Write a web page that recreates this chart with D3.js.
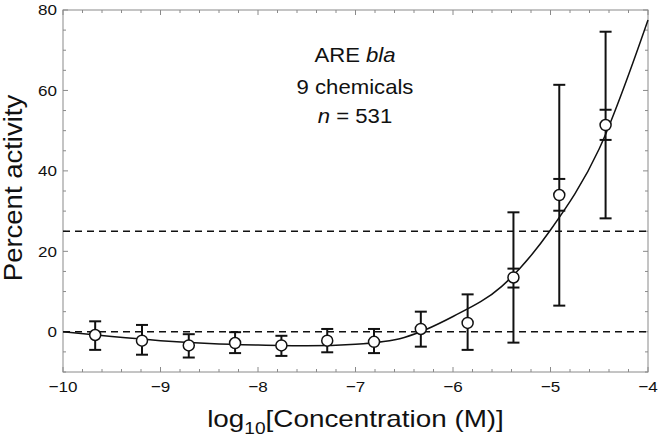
<!DOCTYPE html>
<html>
<head>
<meta charset="utf-8">
<script src="https://cdn.jsdelivr.net/npm/d3@7"></script>
<style>
  body { margin: 0; background: #fff; }
  svg { display: block; font-family: Arial, "Liberation Sans", sans-serif; }
</style>
</head>
<body>
<svg id="chart" width="660" height="440"></svg>
<script>
// ---- data ----
const logConc   = [-9.67, -9.19, -8.71, -8.235, -7.76, -7.29, -6.81, -6.33, -5.85, -5.38, -4.91, -4.435];
const meanAct   = [-0.8, -2.2, -3.4, -2.8, -3.4, -2.2, -2.5, 0.7, 2.2, 13.5, 34.0, 51.4];
const sdLow     = [-4.5, -5.7, -6.4, -5.3, -6.0, -5.1, -5.3, -3.7, -4.5, -2.7, 6.5, 28.2];
const sdHigh    = [2.6, 1.7, -0.6, -0.1, -1.0, 0.7, 0.7, 5.0, 9.3, 29.7, 61.4, 74.6];
// inner (standard error) bars, only visible on the last points
const semIdx    = [9, 10, 11];
const semLow    = [11.0, 30.1, 47.7];
const semHigh   = [15.7, 38.0, 55.2];

// fitted curve
const fitX = [-10, -9.5, -9, -8.5, -8, -7.5, -7, -6.5, -6, -5.5, -5, -4.5, -4];
const fitY = [0, -1.2, -2.2, -2.9, -3.3, -3.5, -3.1, -1.4, 3.8, 11.3, 25.3, 45.5, 77.5];

const refLines = [0, 25];
const xTicks = [-10, -9, -8, -7, -6, -5, -4];
const yTicks = [0, 20, 40, 60, 80];

// ---- layout ----
const svg = d3.select('#chart');
const margin = { left: 63, right: 12, top: 10, bottom: 68 };
const W = 660, H = 440;
const x = d3.scaleLinear().domain([-10, -4]).range([margin.left, W - margin.right]);
const y = d3.scaleLinear().domain([-10, 80]).range([H - margin.bottom, margin.top]);

const frame = '#8a8a8a';
const ink = '#111';
const stretch = 1.1; // the original font runs a bit wider than Arial

// place a text element at (px, py), widened horizontally
function placeText(sel, px, py, sx = stretch, rot = 0) {
  return sel.attr('transform', `translate(${px},${py}) rotate(${rot}) scale(${sx},1)`);
}

// frame
svg.append('rect')
  .attr('x', x(-10)).attr('y', y(80))
  .attr('width', x(-4) - x(-10)).attr('height', y(-10) - y(80))
  .attr('fill', 'none').attr('stroke', frame).attr('stroke-width', 1);

// ticks (inward, on all four sides)
const xMinor = d3.range(-10, -3.999, 0.2);
const yMinor = d3.range(-10, 80.001, 5);
const tickG = svg.append('g').attr('stroke', frame).attr('stroke-width', 1);
xMinor.forEach(v => {
  const major = Math.abs(v - Math.round(v)) < 1e-6;
  const len = major ? 5 : 3;
  tickG.append('line').attr('x1', x(v)).attr('x2', x(v)).attr('y1', y(-10)).attr('y2', y(-10) - len);
  tickG.append('line').attr('x1', x(v)).attr('x2', x(v)).attr('y1', y(80)).attr('y2', y(80) + len);
});
yMinor.forEach(v => {
  const major = v % 20 === 0;
  const len = major ? 5 : 3;
  tickG.append('line').attr('y1', y(v)).attr('y2', y(v)).attr('x1', x(-10)).attr('x2', x(-10) + len);
  tickG.append('line').attr('y1', y(v)).attr('y2', y(v)).attr('x1', x(-4)).attr('x2', x(-4) - len);
});

// tick labels
svg.append('g').selectAll('text').data(xTicks).join('text')
  .each(function(d) { placeText(d3.select(this), x(d), y(-10) + 20); })
  .attr('text-anchor', 'middle').attr('font-size', 15.5).attr('fill', ink)
  .text(d => String(d).replace('-', '\u2212'));
svg.append('g').selectAll('text').data(yTicks).join('text')
  .each(function(d) { placeText(d3.select(this), x(-10) - 6, y(d)); })
  .attr('dy', '0.35em')
  .attr('text-anchor', 'end').attr('font-size', 15.5).attr('fill', ink)
  .text(d => d);

// dashed reference lines
svg.append('g').selectAll('line').data(refLines).join('line')
  .attr('x1', x(-10)).attr('x2', x(-4))
  .attr('y1', d => y(d)).attr('y2', d => y(d))
  .attr('stroke', ink).attr('stroke-width', 1.5).attr('stroke-dasharray', '7,5');

// fitted curve
const line = d3.line().x((d, i) => x(fitX[i])).y(d => y(d)).curve(d3.curveMonotoneX);
svg.append('path').datum(fitY)
  .attr('d', line).attr('fill', 'none').attr('stroke', ink).attr('stroke-width', 1.5);

// error bars
const cap = 6;
const errG = svg.append('g').attr('stroke', ink).attr('stroke-width', 2);
logConc.forEach((c, i) => {
  const cx = x(c);
  errG.append('line').attr('x1', cx).attr('x2', cx).attr('y1', y(sdLow[i])).attr('y2', y(sdHigh[i]));
  [sdLow[i], sdHigh[i]].forEach(v => {
    errG.append('line').attr('x1', cx - cap).attr('x2', cx + cap).attr('y1', y(v)).attr('y2', y(v));
  });
});
semIdx.forEach((idx, k) => {
  const cx = x(logConc[idx]);
  [semLow[k], semHigh[k]].forEach(v => {
    errG.append('line').attr('x1', cx - cap).attr('x2', cx + cap).attr('y1', y(v)).attr('y2', y(v));
  });
});

// points
svg.append('g').selectAll('circle').data(meanAct).join('circle')
  .attr('cx', (d, i) => x(logConc[i])).attr('cy', d => y(d)).attr('r', 5.5)
  .attr('fill', '#fff').attr('stroke', ink).attr('stroke-width', 1.5);

// annotation
const annX = 355;
const a1 = placeText(svg.append('text'), annX, 62, 1.08)
  .attr('text-anchor', 'middle').attr('font-size', 20.5).attr('fill', ink);
a1.append('tspan').text('ARE ');
a1.append('tspan').attr('font-style', 'italic').text('bla');
placeText(svg.append('text'), annX, 94, 1.08)
  .attr('text-anchor', 'middle').attr('font-size', 20.5).attr('fill', ink)
  .text('9 chemicals');
const a3 = placeText(svg.append('text'), annX, 123, 1.08)
  .attr('text-anchor', 'middle').attr('font-size', 20.5).attr('fill', ink);
a3.append('tspan').attr('font-style', 'italic').text('n');
a3.append('tspan').text(' = 531');

// axis titles
const xt = placeText(svg.append('text'), (x(-10) + x(-4)) / 2, 427, 1.16)
  .attr('text-anchor', 'middle').attr('font-size', 24).attr('fill', ink);
xt.append('tspan').text('log');
xt.append('tspan').attr('font-size', 16.5).attr('dy', 7).text('10');
xt.append('tspan').attr('dy', -7).text('[Concentration (M)]');

placeText(svg.append('text'), 22, 188, 1.1, -90)
  .attr('text-anchor', 'middle').attr('font-size', 25).attr('fill', ink)
  .text('Percent activity');
</script>
</body>
</html>
